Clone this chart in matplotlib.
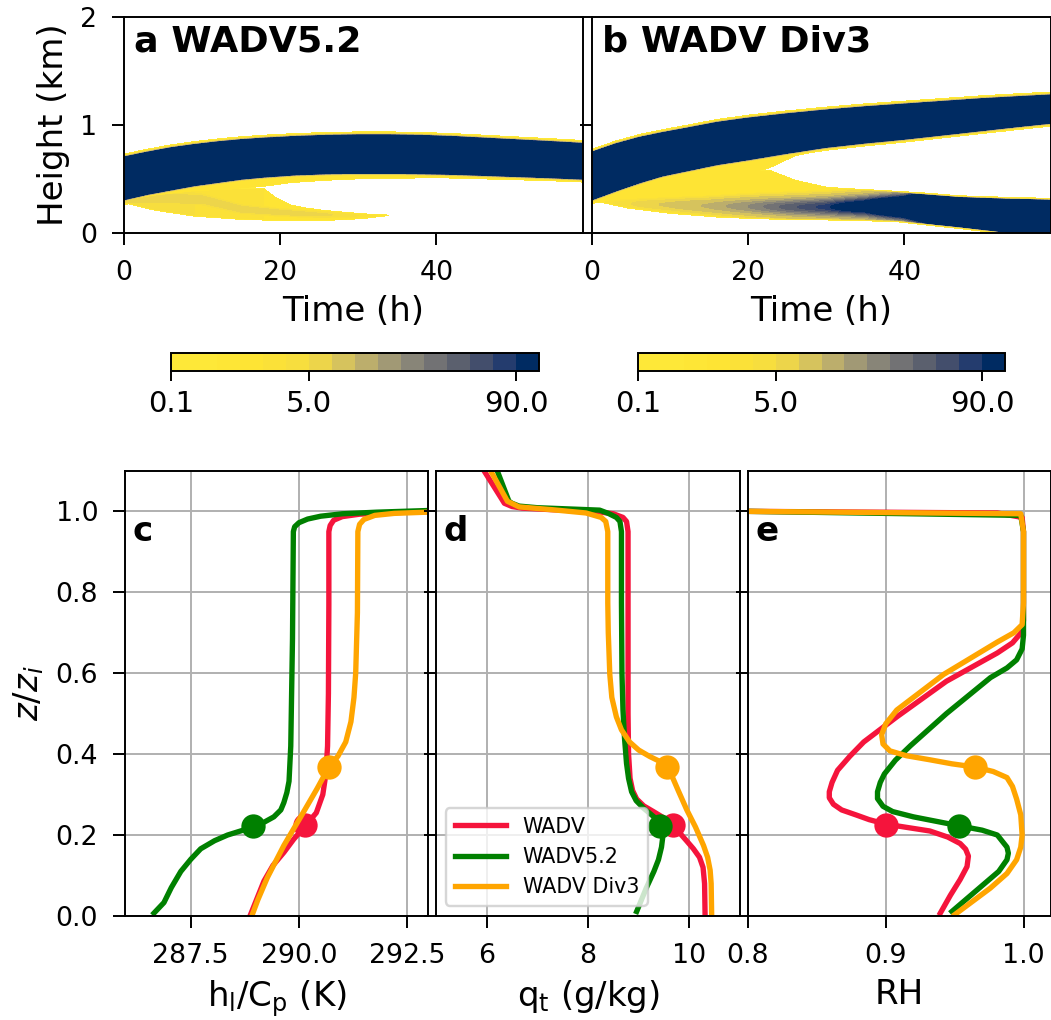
import numpy as np
import matplotlib
matplotlib.use('Agg')
import matplotlib.pyplot as plt

RED = "#f5143c"
GREEN = "green"
ORANGE = "orange"

# cloud fraction (%) contour levels
LEVELS = [0.1, 0.2, 0.5, 1, 2, 3, 5, 10, 20, 30, 40, 50, 60, 70, 80, 90, 100]
CB_TICKS = [0.1, 5.0, 90.0]

# ---- WADV5.2: main cloud layer, its skirt, and the thin layer below ----
a_band_t = [0, 3, 6, 9, 12, 15, 18, 22, 26, 30, 34, 38, 42, 46, 50, 54, 59]
a_band_top = [0.70, 0.745, 0.785, 0.815, 0.84, 0.86, 0.875, 0.89, 0.90, 0.905, 0.905,
              0.90, 0.89, 0.875, 0.86, 0.845, 0.825]
a_band_bot = [0.31, 0.36, 0.40, 0.44, 0.47, 0.50, 0.52, 0.54, 0.55, 0.555, 0.555,
              0.55, 0.545, 0.535, 0.525, 0.515, 0.50]

a_skirt_t = [0, 10, 17.9, 21, 28, 40, 59]
a_skirt_depth = [0.06, 0.10, 0.10, 0.085, 0.07, 0.05, 0.04]

a_low_t = [0, 4, 9, 15, 17.9, 19.4, 21.3, 23.5, 25.7, 28, 30.6, 33, 35, 35.5, 59]
a_low_top = [0.31, 0.36, 0.40, 0.42, 0.42, 0.34, 0.27, 0.24, 0.22, 0.205, 0.19,
             0.18, 0.175, 0.17, 0.17]
a_low_bot = [0.27, 0.20, 0.145, 0.115, 0.108, 0.106, 0.105, 0.104, 0.104, 0.11,
             0.12, 0.14, 0.165, 0.17, 0.17]
a_low_val = [4, 4, 3, 3, 2, 2, 2, 1.5, 1.5, 1.5, 1, 1, 0.5, 0.5, 0.5]

a_core_t = [0, 5, 10, 15, 20, 25, 30, 35]
a_core_mid = [0.30, 0.32, 0.31, 0.22, 0.19, 0.17, 0.16, 0.16]
a_core_half = [0.03, 0.05, 0.05, 0.04, 0.03, 0.03, 0.02, 0.01]
a_core_peak = [8, 10, 8, 8, 8, 6, 3, 1]

# ---- WADV Div3: rising upper layer and a lower layer that thickens ----
b_band_t = [0, 3, 6, 9, 12, 16, 20, 25, 30, 35, 40, 45, 50, 55, 59]
b_band_top = [0.745, 0.82, 0.88, 0.925, 0.965, 1.02, 1.06, 1.10, 1.135, 1.165, 1.19,
              1.215, 1.24, 1.26, 1.275]
b_band_bot = [0.31, 0.39, 0.465, 0.53, 0.575, 0.635, 0.68, 0.74, 0.795, 0.835, 0.87,
              0.91, 0.95, 0.99, 1.02]

b_skirt_t = [0, 10, 20, 22.8, 26, 30, 40, 59]
b_skirt_depth = [0.05, 0.15, 0.15, 0.12, 0.05, 0.03, 0.02, 0.02]

b_low_t = [0, 4.5, 10, 16, 20, 22.8, 26, 30, 39, 47, 53, 59]
b_low_top = [0.31, 0.42, 0.50, 0.56, 0.58, 0.59, 0.50, 0.435, 0.39, 0.345, 0.33, 0.32]
b_low_bot = [0.29, 0.22, 0.17, 0.135, 0.125, 0.12, 0.115, 0.113, 0.10, 0.04, -0.01, -0.06]
b_low_val = [2, 2, 2, 1.5, 1.5, 1.5, 1.5, 1.5, 1.5, 1.5, 1.5, 1.5]

b_core_t = [0, 5, 10, 15, 20, 25, 30, 35, 40, 43, 47, 52, 59]
b_core_mid = [0.29, 0.27, 0.26, 0.25, 0.245, 0.24, 0.24, 0.245, 0.24, 0.235, 0.21, 0.17, 0.10]
b_core_half = [0.02, 0.04, 0.05, 0.06, 0.07, 0.075, 0.08, 0.085, 0.095, 0.11, 0.13, 0.16, 0.20]
b_core_peak = [0.5, 5, 12, 22, 40, 65, 85, 130, 250, 500, 1000, 1000, 1000]

# ---- mean profiles vs z/zi ----
hl_wadv_z = [0.003, 0.035, 0.086, 0.125, 0.157, 0.19, 0.223, 0.255, 0.30, 0.35, 0.42,
             0.55, 0.77, 0.95, 0.965, 0.978, 0.987, 0.993, 0.997, 0.999, 1.01, 1.1]
hl_wadv_x = [288.88, 289.0, 289.19, 289.4, 289.65, 289.88, 290.15, 290.4, 290.55,
             290.62, 290.66, 290.68, 290.69, 290.69, 290.72, 290.8, 291.0, 291.4,
             292.2, 292.96, 295.0, 297.0]
hl_52_z = [0.007, 0.033, 0.07, 0.11, 0.14, 0.166, 0.186, 0.20, 0.21, 0.22, 0.232, 0.245,
           0.262, 0.28, 0.305, 0.333, 0.42, 0.685, 0.95, 0.962, 0.972, 0.981, 0.988,
           0.994, 0.998, 1.002, 1.01, 1.1]
hl_52_x = [286.65, 286.88, 287.05, 287.27, 287.5, 287.73, 288.05, 288.35, 288.65, 288.94,
           289.2, 289.42, 289.58, 289.65, 289.72, 289.77, 289.81, 289.85, 289.87, 289.9,
           290.0, 290.2, 290.5, 291.0, 291.8, 292.96, 295.0, 297.0]
hl_div3_z = [0.003, 0.04, 0.095, 0.174, 0.245, 0.315, 0.368, 0.395, 0.43, 0.48, 0.54,
             0.60, 0.75, 0.95, 0.968, 0.98, 0.99, 0.995, 0.998, 1.01, 1.1]
hl_div3_x = [288.92, 289.05, 289.27, 289.65, 290.04, 290.42, 290.69, 290.9, 291.08,
             291.2, 291.27, 291.31, 291.35, 291.36, 291.4, 291.5, 291.75, 292.2,
             292.96, 295.0, 297.0]

qt_wadv_z = [0.003, 0.08, 0.12, 0.145, 0.166, 0.185, 0.205, 0.226, 0.242, 0.258, 0.272,
             0.289, 0.31, 0.34, 0.40, 0.50, 0.95, 0.975, 0.985, 0.994, 0.999, 1.004,
             1.008, 1.012, 1.02, 1.1]
qt_wadv_x = [10.31, 10.30, 10.27, 10.20, 10.08, 9.95, 9.81, 9.68, 9.50, 9.29, 9.10,
             8.96, 8.88, 8.83, 8.80, 8.79, 8.79, 8.76, 8.69, 8.50, 8.20, 7.30, 6.70,
             6.50, 6.35, 5.95]
qt_52_z = [0.011, 0.069, 0.11, 0.139, 0.17, 0.20, 0.223, 0.245, 0.267, 0.285, 0.307,
           0.34, 0.377, 0.44, 0.509, 0.60, 0.774, 0.95, 0.975, 0.985, 0.995, 1.003,
           1.009, 1.013, 1.02, 1.025, 1.1]
qt_52_x = [8.96, 9.15, 9.30, 9.39, 9.45, 9.48, 9.45, 9.30, 9.09, 8.95, 8.86, 8.80,
           8.76, 8.72, 8.69, 8.67, 8.66, 8.66, 8.63, 8.56, 8.40, 8.23, 7.00, 6.64,
           6.50, 6.44, 6.21]
qt_div3_z = [0.003, 0.08, 0.113, 0.145, 0.174, 0.22, 0.262, 0.31, 0.368, 0.383, 0.394,
             0.41, 0.43, 0.46, 0.492, 0.54, 0.597, 0.70, 0.774, 0.95, 0.975, 0.985,
             0.996, 1.004, 1.011, 1.025, 1.1]
qt_div3_x = [10.44, 10.43, 10.41, 10.36, 10.28, 10.12, 9.95, 9.78, 9.58, 9.40, 9.22,
             9.00, 8.82, 8.66, 8.56, 8.47, 8.43, 8.40, 8.39, 8.39, 8.35, 8.26, 7.96,
             7.30, 6.64, 6.41, 6.08]

rh_wadv_z = [0.007, 0.051, 0.09, 0.122, 0.148, 0.165, 0.179, 0.195, 0.21, 0.219, 0.227,
             0.238, 0.249, 0.262, 0.276, 0.292, 0.307, 0.33, 0.36, 0.395, 0.43, 0.492,
             0.58, 0.65, 0.675, 0.699, 0.73, 0.95, 0.985, 0.996, 1.0, 1.01, 1.1]
rh_wadv_x = [0.9396, 0.9469, 0.954, 0.959, 0.960, 0.958, 0.954, 0.945, 0.932, 0.915,
             0.900, 0.888, 0.879, 0.868, 0.862, 0.859, 0.859, 0.861, 0.865, 0.874,
             0.884, 0.908, 0.944, 0.981, 0.992, 0.998, 1.0, 1.0, 0.999, 0.981, 0.80,
             0.6, 0.4]
rh_52_z = [0.011, 0.078, 0.11, 0.139, 0.155, 0.17, 0.20, 0.212, 0.223, 0.235, 0.245,
           0.258, 0.271, 0.29, 0.307, 0.33, 0.351, 0.385, 0.421, 0.50, 0.589, 0.613,
           0.633, 0.66, 0.694, 0.95, 0.99, 1.0, 1.01, 1.1]
rh_52_x = [0.948, 0.971, 0.982, 0.988, 0.989, 0.988, 0.981, 0.970, 0.953, 0.935, 0.920,
           0.905, 0.898, 0.894, 0.894, 0.896, 0.899, 0.907, 0.918, 0.944, 0.976, 0.988,
           0.995, 0.999, 1.0, 1.0, 0.998, 0.80, 0.6, 0.4]
rh_div3_z = [0.003, 0.069, 0.105, 0.139, 0.17, 0.20, 0.25, 0.289, 0.32, 0.342, 0.357,
             0.368, 0.376, 0.386, 0.396, 0.408, 0.425, 0.448, 0.475, 0.509, 0.597,
             0.677, 0.70, 0.72, 0.774, 0.95, 0.994, 1.0, 1.01, 1.1]
rh_div3_x = [0.950, 0.976, 0.988, 0.995, 0.998, 0.999, 0.998, 0.995, 0.992, 0.988,
             0.978, 0.965, 0.948, 0.932, 0.915, 0.903, 0.898, 0.897, 0.900, 0.908,
             0.942, 0.981, 0.993, 0.999, 1.0, 1.0, 0.998, 0.80, 0.6, 0.4]

# cloud-base markers: z/zi and value in each panel (hl, qt, RH)
base_wadv = [0.225, 290.15, 9.68, 0.900]
base_52 = [0.222, 288.94, 9.43, 0.953]
base_div3 = [0.368, 290.69, 9.55, 0.965]

EDGE = 0.03   # km over which the cloud edge fades out
SOFT = 0.02


def layer_weight(Z, bot, top):
    s = np.minimum(Z - bot, top - Z)
    return np.where(s > 0, 10 ** (-3 * (1 - np.clip(s / SOFT, 0, 1))), 0)


def cloud_field(t, z, band, skirt, low, core):
    """Cloud fraction on a (z, t) grid from layer top/bottom tracks."""
    Z = z[:, None]
    top = np.interp(t, band[0], band[1])[None, :]
    bot = np.interp(t, band[0], band[2])[None, :]
    d = np.maximum(np.maximum(bot - Z, Z - top), 0)
    v_band = 99 * 10 ** (-3 * d / EDGE)

    depth = np.interp(t, skirt[0], skirt[1])[None, :]
    v_skirt = 1.5 * layer_weight(Z, bot - depth, bot + 0.01)

    ltop = np.interp(t, low[0], low[1])[None, :]
    lbot = np.interp(t, low[0], low[2])[None, :]
    lval = np.interp(t, low[0], low[3])[None, :]
    f = layer_weight(Z, lbot, ltop)
    v_low = lval * f

    mid = np.interp(t, core[0], core[1])[None, :]
    half = np.interp(t, core[0], core[2])[None, :]
    peak = np.interp(t, core[0], core[3], right=0)[None, :]
    v_core = np.minimum(peak * np.exp(-((Z - mid) / half) ** 2), 99) * f
    return np.max([v_band, v_skirt, v_low, v_core], axis=0)


t = np.linspace(0, 58.8, 589)
z = np.linspace(0, 2, 801)
field_a = cloud_field(t, z, (a_band_t, a_band_top, a_band_bot),
                      (a_skirt_t, a_skirt_depth),
                      (a_low_t, a_low_top, a_low_bot, a_low_val),
                      (a_core_t, a_core_mid, a_core_half, a_core_peak))
field_b = cloud_field(t, z, (b_band_t, b_band_top, b_band_bot),
                      (b_skirt_t, b_skirt_depth),
                      (b_low_t, b_low_top, b_low_bot, b_low_val),
                      (b_core_t, b_core_mid, b_core_half, b_core_peak))

plt.rcParams['font.size'] = 10
plt.rcParams['xtick.major.size'] = 5
plt.rcParams['ytick.major.size'] = 5
plt.rcParams['xtick.major.pad'] = 6
plt.rcParams['ytick.major.pad'] = 6
plt.rcParams['xtick.labelsize'] = 11
plt.rcParams['ytick.labelsize'] = 11
fig = plt.figure(figsize=(6.006, 5.829), dpi=175)

ax_a = fig.add_axes([0.118, 0.7716, 0.4367, 0.2118])
ax_b = fig.add_axes([0.5633, 0.7716, 0.4367, 0.2118])
cax_a = fig.add_axes([0.1627, 0.6363, 0.3501, 0.0176])
cax_b = fig.add_axes([0.6070, 0.6363, 0.3492, 0.0176])

for ax, fld, title, cax in [(ax_a, field_a, "a WADV5.2", cax_a),
                            (ax_b, field_b, "b WADV Div3", cax_b)]:
    cs = ax.contourf(t, z, fld, levels=LEVELS, cmap="cividis_r")
    ax.set_xlim(0, 58.8)
    ax.set_ylim(0, 2)
    ax.set_xticks([0, 20, 40])
    ax.set_yticks([0, 1, 2])
    ax.set_xlabel("Time (h)", fontsize=14)
    ax.text(0.022, 0.965, title, transform=ax.transAxes, fontsize=15,
            fontweight="bold", va="top", ha="left")
    cb = fig.colorbar(cs, cax=cax, orientation="horizontal", ticks=CB_TICKS)
    cb.ax.set_xticklabels([f"{v:.1f}" for v in CB_TICKS])
    cb.ax.tick_params(labelsize=12, length=4, pad=4)
ax_a.set_ylabel("Height (km)", fontsize=14)
ax_b.tick_params(labelleft=False)

# ---- profiles ----
ax_c = fig.add_axes([0.1189, 0.1020, 0.2883, 0.4363])
ax_d = fig.add_axes([0.4148, 0.1020, 0.2893, 0.4363])
ax_e = fig.add_axes([0.7117, 0.1020, 0.2883, 0.4363])

cases = [
    ("WADV", RED, (hl_wadv_x, hl_wadv_z), (qt_wadv_x, qt_wadv_z), (rh_wadv_x, rh_wadv_z), base_wadv),
    ("WADV5.2", GREEN, (hl_52_x, hl_52_z), (qt_52_x, qt_52_z), (rh_52_x, rh_52_z), base_52),
    ("WADV Div3", ORANGE, (hl_div3_x, hl_div3_z), (qt_div3_x, qt_div3_z), (rh_div3_x, rh_div3_z), base_div3),
]
for name, col, hl, qt, rh, base in cases:
    for i, (ax, prof) in enumerate([(ax_c, hl), (ax_d, qt), (ax_e, rh)]):
        ax.plot(prof[0], prof[1], color=col, lw=2.2, label=name)
        ax.plot(base[i + 1], base[0], "o", color=col, ms=9)

ax_c.set_xlim(285.98, 292.98)
ax_c.set_xticks([287.5, 290.0, 292.5])
ax_c.set_xticklabels(["287.5", "290.0", "292.5"])
ax_c.set_xlabel(r"h$_\mathrm{l}$/C$_\mathrm{p}$ (K)", fontsize=14)
ax_c.set_ylabel(r"$z/z_i$", fontsize=14)

ax_d.set_xlim(5, 11)
ax_d.set_xticks([6, 8, 10])
ax_d.set_xlabel(r"q$_\mathrm{t}$ (g/kg)", fontsize=14)

ax_e.set_xlim(0.8, 1.02)
ax_e.set_xticks([0.8, 0.9, 1.0])
ax_e.set_xlabel("RH", fontsize=14)

for ax, letter in [(ax_c, "c"), (ax_d, "d"), (ax_e, "e")]:
    ax.set_ylim(0, 1.1)
    ax.set_yticks([0.0, 0.2, 0.4, 0.6, 0.8, 1.0])
    ax.grid(True, color="#b0b0b0", lw=0.8)
    ax.text(0.025, 0.90, letter, transform=ax.transAxes, fontsize=14,
            fontweight="bold", va="top", ha="left")
ax_d.tick_params(labelleft=False)
ax_e.tick_params(labelleft=False)

handles, labels = ax_d.get_legend_handles_labels()
ax_d.legend(handles, labels, loc="lower left", fontsize=8.5, handlelength=2.5,
            borderaxespad=0.5)

fig.savefig("out.png", dpi=175)
